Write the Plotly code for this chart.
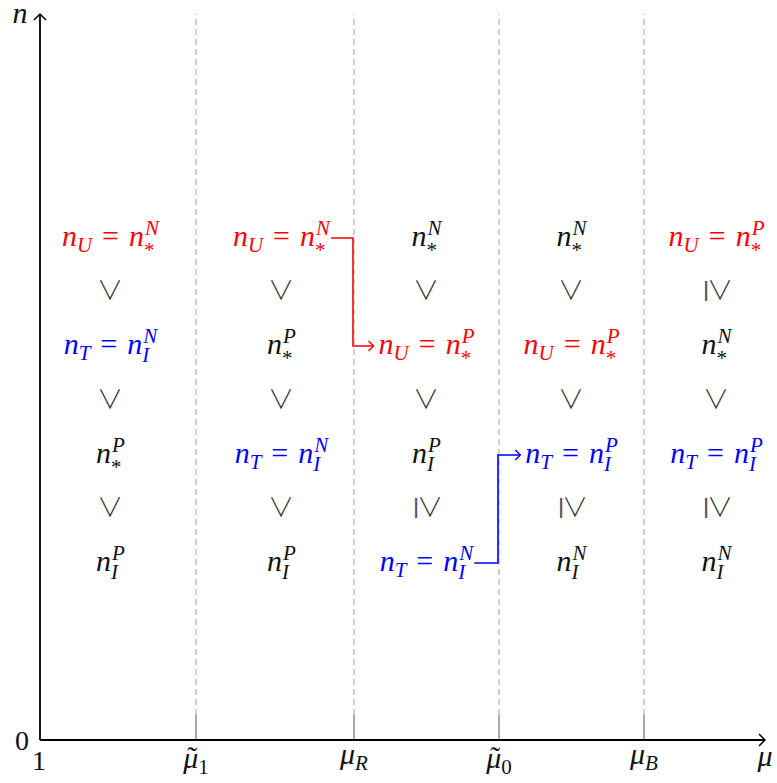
import plotly.graph_objects as go

# ---------------- data ----------------
# breakpoints on the mu axis (plot units, origin of axes = 0)
mu_breaks = [156, 314, 459, 604]
mu_break_names = ["μ", "μ", "μ", "μ"]
mu_break_tilde = [True, False, True, False]
mu_break_subs = ["1", "<i>R</i>", "0", "<i>B</i>"]
axis_end_x = 725
axis_end_y = 726

# the five regions (columns) between breakpoints
region_centers = [70, 241, 386, 531, 676]
# four orderings per region, top to bottom: (lhs subscript or None, base subscript, superscript, colour)
region_entries = [
    [("U", "*", "N", "red"), ("T", "I", "N", "blue"), (None, "*", "P", "black"), (None, "I", "P", "black")],
    [("U", "*", "N", "red"), (None, "*", "P", "black"), ("T", "I", "N", "blue"), (None, "I", "P", "black")],
    [(None, "*", "N", "black"), ("U", "*", "P", "red"), (None, "I", "P", "black"), ("T", "I", "N", "blue")],
    [(None, "*", "N", "black"), ("U", "*", "P", "red"), ("T", "I", "P", "blue"), (None, "I", "N", "black")],
    [("U", "*", "P", "red"), (None, "*", "N", "black"), ("T", "I", "P", "blue"), (None, "I", "N", "black")],
]
# relation between consecutive rows: ">" strict, ">=" weak
region_relations = [
    [">", ">", ">"],
    [">", ">", ">"],
    [">", ">", ">="],
    [">", ">", ">="],
    [">=", ">", ">="],
]
row_levels = [502, 394, 285, 177]
relation_levels = [449, 340, 232]

# transitions: (from region, from row) -> (to region, to row), via breakpoint index
transitions = [((1, 0), (2, 1), 1, "red"), ((2, 3), (3, 2), 2, "blue")]

# ---------------- styling ----------------
FS = 30
SFS = 21
FONT = "Liberation Serif"
COLORS = {"red": "#ff0000", "blue": "#0000ff", "black": "#111111"}
ITAL = {"n": 0.5, "U": 0.722, "T": 0.556, "N": 0.667, "P": 0.611, "I": 0.333, "*": 0.5,
        "μ": 0.5, "1": 0.5, "0": 0.5, "<i>R</i>": 0.611, "<i>B</i>": 0.611}
GAP = "\u2004"
SUP_DY = 8
SUB_DY = {"*": -14, "I": -11}

fig = go.Figure()


def add_text(x, y, text, size, color, pos, family=FONT, weight="normal"):
    fig.add_trace(go.Scatter(x=[x], y=[y], mode="text", text=[text], textposition=pos,
                             textfont=dict(family=family, size=size, color=color, weight=weight),
                             cliponaxis=False, hoverinfo="skip"))


def chevron(tx, ty, direction, color, width, back=6, half=6):
    if direction == "right":
        xs, ys = [tx - back, tx, tx - back], [ty + half, ty, ty - half]
    else:  # up
        xs, ys = [tx - half, tx, tx + half], [ty - back, ty, ty - back]
    fig.add_trace(go.Scatter(x=xs, y=ys, mode="lines", line=dict(color=color, width=width),
                             hoverinfo="skip"))


extents = {}
for ci, (c, entries) in enumerate(zip(region_centers, region_entries)):
    for ri, (lhs, sub, sup, col) in enumerate(entries):
        y = row_levels[ri]
        color = COLORS[col]
        if lhs:
            main = f"<i>n</i><sub><i>{lhs}</i></sub>{GAP}={GAP}<i>n</i>"
            main_w = (ITAL["n"] * FS + ITAL[lhs] * 0.7 * FS + 2 * FS / 3
                      + 0.564 * FS + ITAL["n"] * FS)
        else:
            main = "<i>n</i>"
            main_w = ITAL["n"] * FS
        script_w = max(ITAL[sup], ITAL[sub]) * SFS
        total = main_w + script_w
        p = c - total / 2 + main_w
        extents[(ci, ri)] = (p - main_w, p + script_w)
        add_text(p, y, main, FS, color, "middle left")
        add_text(p + 1, y + SUP_DY, f"<i>{sup}</i>", SFS, color, "middle right")
        subtxt = "*" if sub == "*" else f"<i>{sub}</i>"
        add_text(p, y + SUB_DY[sub], subtxt, SFS, color, "middle right")
    for k, rel in enumerate(region_relations[ci]):
        if rel == ">":
            add_text(c, relation_levels[k] - 2, "∨", 26, "#333333", "middle center",
                     "Noto Sans CJK JP", 300)
        else:
            add_text(c + 4, relation_levels[k] - 2, "∨", 26, "#333333", "middle center",
                     "Noto Sans CJK JP", 300)
            add_text(c - 10, relation_levels[k] - 1, "ǀ", 21, "#555555", "middle center",
                     "DejaVu Sans")

# dashed separators and ticks
for b in mu_breaks:
    fig.add_trace(go.Scatter(x=[b, b], y=[25, axis_end_y], mode="lines",
                             line=dict(color="#a0a0a0", width=1, dash="6px,4px"), hoverinfo="skip"))
    fig.add_trace(go.Scatter(x=[b, b], y=[0, 25], mode="lines",
                             line=dict(color="#707070", width=1.2), hoverinfo="skip"))

# transitions
for (fr, to, bi, col) in transitions:
    x0 = extents[fr][1] + 2
    x1 = extents[to][0] - 5
    xb = mu_breaks[bi] - 1
    y0 = row_levels[fr[1]]
    y1 = row_levels[to[1]]
    fig.add_trace(go.Scatter(x=[x0, xb, xb, x1], y=[y0, y0, y1, y1], mode="lines",
                             line=dict(color=COLORS[col], width=1.6), hoverinfo="skip"))
    chevron(x1, y1, "right", COLORS[col], 1.4, back=5, half=5)

# axes
fig.add_trace(go.Scatter(x=[0, axis_end_x], y=[0, 0], mode="lines",
                         line=dict(color="black", width=1.8), hoverinfo="skip"))
fig.add_trace(go.Scatter(x=[0, 0], y=[0, axis_end_y], mode="lines",
                         line=dict(color="black", width=1.8), hoverinfo="skip"))
chevron(axis_end_x, 0, "right", "black", 1.5)
chevron(0, axis_end_y, "up", "black", 1.5)

# axis labels
add_text(-20, 725, "<i>n</i>", FS, "#111111", "middle center")
add_text(-18, -3, "0", 28, "#111111", "middle center")
add_text(-1, -23, "1", 28, "#111111", "middle center")
add_text(axis_end_x, -18.5, "<i>μ</i>", FS, "#111111", "middle center")
for b, name, tilde, sub in zip(mu_breaks, mu_break_names, mu_break_tilde, mu_break_subs):
    w_mu = ITAL[name] * FS
    w_sub = ITAL[sub] * 0.7 * FS
    y = -20.5 if tilde else -16.5
    add_text(b, y, f"<i>{name}</i><sub>{sub}</sub>", FS, "#111111", "middle center")
    if tilde:
        mu_center = b - (w_mu + w_sub) / 2 + w_mu / 2 + 1.5
        add_text(mu_center, y + 1, "˜", FS, "#111111", "middle center")

fig.update_layout(
    width=777, height=783, margin=dict(l=0, r=0, t=0, b=0),
    paper_bgcolor="white", plot_bgcolor="white", showlegend=False,
    xaxis=dict(range=[-40, 737], visible=False, fixedrange=True),
    yaxis=dict(range=[-43, 740], visible=False, fixedrange=True),
)
fig.write_html("out.html", config={"displayModeBar": False},
               post_script="document.body.style.margin='0';document.body.style.overflow='hidden';")
